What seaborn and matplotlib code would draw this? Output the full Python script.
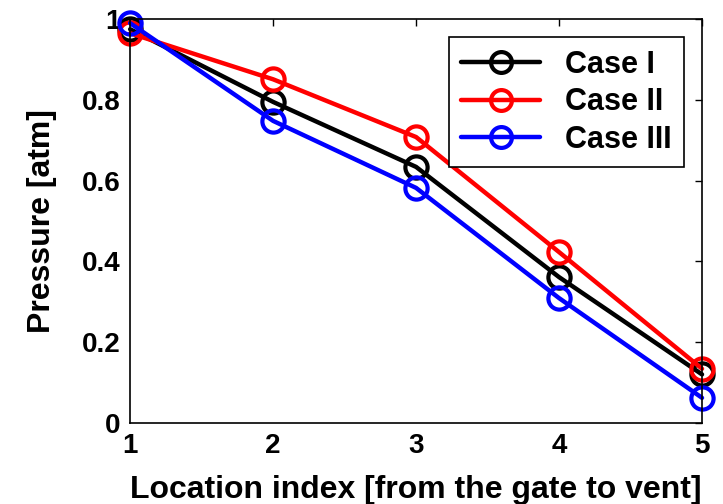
import pandas as pd
import seaborn as sns
import matplotlib.pyplot as plt
from matplotlib.lines import Line2D

# values
location = [1, 2, 3, 4, 5]
case_1 = [0.975, 0.795, 0.634, 0.361, 0.120]
case_2 = [0.965, 0.851, 0.708, 0.423, 0.134]
case_3 = [0.990, 0.748, 0.582, 0.309, 0.062]
cases = ["Case I", "Case II", "Case III"]
colors = ["black", "red", "blue"]

df = pd.DataFrame({"Location": location * 3,
                   "Pressure": case_1 + case_2 + case_3,
                   "Case": [c for c in cases for _ in location]})

sns.set_style("white")
plt.rcParams["font.family"] = ["Liberation Sans", "DejaVu Sans"]
plt.rcParams["font.weight"] = "bold"
plt.rcParams["text.color"] = "black"
plt.rcParams["xtick.color"] = "black"
plt.rcParams["ytick.color"] = "black"
plt.rcParams["axes.labelcolor"] = "black"

fig = plt.figure(figsize=(7.23, 5.04), dpi=100)
ax = fig.add_axes([0.18, 0.161, 0.791, 0.801])

sns.lineplot(data=df, x="Location", y="Pressure", hue="Case",
             palette=dict(zip(cases, colors)), marker="o",
             markersize=16, markerfacecolor="none",
             markeredgewidth=3, linewidth=3.2, ax=ax, legend=False,
             clip_on=False)
for ln, c in zip(ax.get_lines(), colors):
    ln.set_markeredgecolor(c)

ax.set_xlim(1, 5)
ax.set_ylim(0, 1)
ax.set_xticks(location)
ax.set_yticks([0, 0.2, 0.4, 0.6, 0.8, 1])
ax.set_yticklabels(["0", "0.2", "0.4", "0.6", "0.8", "1"])
ax.tick_params(direction="in", length=5, labelsize=20, width=1,
               top=True, right=True, pad=7)
for s in ax.spines.values():
    s.set_linewidth(1.2)
    s.set_color("black")
ax.set_xlabel("Location index [from the gate to vent]", fontsize=23,
              fontweight="bold", labelpad=12)
ax.set_ylabel("Pressure [atm]", fontsize=23, fontweight="bold", labelpad=18)

handles = [Line2D([], [], color=c, linewidth=3.2, marker="o", markersize=15,
                  markerfacecolor="none", markeredgewidth=3) for c in colors]
leg = ax.legend(handles, cases, loc="upper right", fontsize=22, frameon=True,
                fancybox=False, edgecolor="black", borderaxespad=0.6,
                handlelength=2.6, handletextpad=0.8, labelspacing=0.25,
                borderpad=0.4, framealpha=1)
leg.get_frame().set_linewidth(1.2)

fig.savefig("out.png", dpi=100)
